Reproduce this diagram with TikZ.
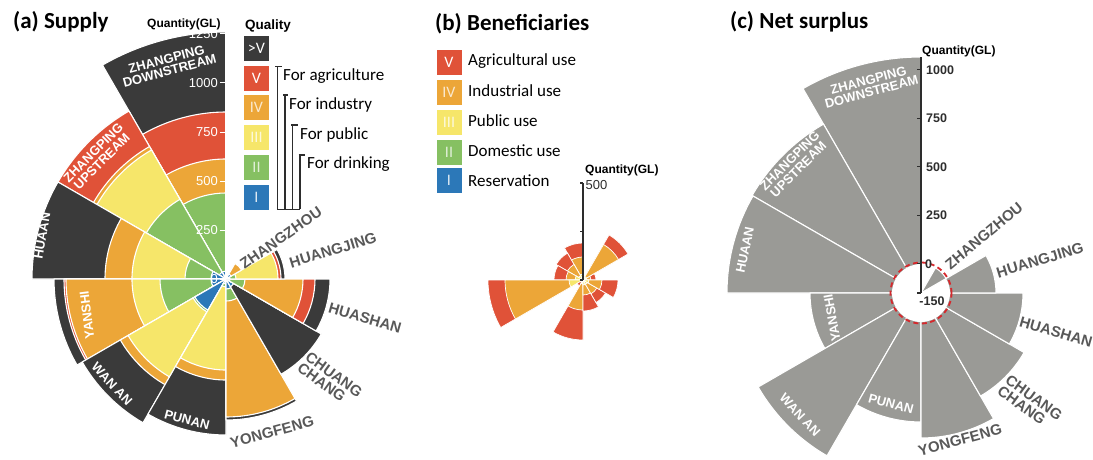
\documentclass[tikz,border=0pt]{standalone}
\usepackage{fontspec}
\setmainfont{Carlito}
\newfontfamily\helv{Liberation Sans}
\definecolor{qdark}{RGB}{58,58,58}
\definecolor{qred}{RGB}{224,82,56}
\definecolor{qorange}{RGB}{236,166,56}
\definecolor{qyellow}{RGB}{246,230,106}
\definecolor{qgreen}{RGB}{134,192,98}
\definecolor{qblue}{RGB}{44,120,184}
\definecolor{nsgrey}{RGB}{154,154,150}
\definecolor{lblgrey}{RGB}{88,88,88}
\definecolor{zerored}{RGB}{214,40,44}
\definecolor{axisdark}{RGB}{45,45,45}

\tikzset{
  sectorline/.style={draw=white,line width=1.1pt,line join=round},
  inname/.style={font=\helv\bfseries\fontsize{13}{12}\selectfont,text=white,align=center,inner sep=0pt},
  outname/.style={font=\helv\bfseries\fontsize{15}{13.5}\selectfont,text=lblgrey,align=left,inner sep=0pt},
  paneltitle/.style={font=\bfseries\fontsize{23}{26}\selectfont,anchor=base west,inner sep=0pt},
  axistitle/.style={font=\helv\bfseries\fontsize{12}{14}\selectfont,anchor=base west,inner sep=0pt},
  axlabel/.style={font=\helv\fontsize{13}{14}\selectfont,inner sep=0pt},
  qbox/.style={minimum width=25,minimum height=25,inner sep=0pt,font=\fontsize{16}{16}\selectfont,text=white},
  legtext/.style={font=\fontsize{17}{19}\selectfont,anchor=base west,inner sep=0pt},
  bracket/.style={draw=axisdark,line width=1.3pt},
}

\begin{document}
\begin{tikzpicture}[x=1pt,y=1pt]
\useasboundingbox (0,0) rectangle (1093,459);
\def\wdg#1#2#3{\filldraw[sectorline,fill=#3] (0,0) -- (#1:#2) arc[start angle=#1,delta angle=30,radius=#2] -- cycle;}

% panel titles
\node[paneltitle] (title-a) at (13,430) {(a) Supply};
\node[paneltitle] (title-b) at (435,428) {(b) Beneficiaries};
\node[paneltitle] (title-c) at (730,430) {(c) Net surplus};

% ---------------- (a) supply
\begin{scope}[shift={(226,180)}]
% zhangping downstream
\wdg{90}{247}{qdark}
\wdg{90}{167}{qred}
\wdg{90}{120}{qorange}
\wdg{90}{86}{qgreen}
\wdg{90}{8}{qblue}
% zhangping upstream
\wdg{120}{194}{qred}
\wdg{120}{153}{qorange}
\wdg{120}{149}{qyellow}
\wdg{120}{92}{qgreen}
\wdg{120}{8}{qblue}
% huaan
\wdg{150}{194}{qdark}
\wdg{150}{121}{qorange}
\wdg{150}{94}{qyellow}
\wdg{150}{41}{qgreen}
\wdg{150}{15}{qblue}
% yanshi
\wdg{180}{172}{qdark}
\wdg{180}{162}{qred}
\wdg{180}{160}{qorange}
\wdg{180}{94}{qyellow}
\wdg{180}{66}{qgreen}
\wdg{180}{15}{qblue}
% wan an
\wdg{210}{166}{qdark}
\wdg{210}{122}{qorange}
\wdg{210}{113}{qyellow}
\wdg{210}{38}{qgreen}
\wdg{210}{36}{qblue}
% punan
\wdg{240}{156}{qdark}
\wdg{240}{101}{qorange}
\wdg{240}{91}{qyellow}
\wdg{240}{8}{qgreen}
\wdg{240}{5}{qblue}
% yongfeng
\wdg{270}{141}{qdark}
\wdg{270}{138}{qorange}
\wdg{270}{22}{qgreen}
\wdg{270}{10}{qblue}
% chuang chang
\wdg{300}{110}{qdark}
\wdg{300}{9}{qblue}
% huashan
\wdg{330}{104}{qdark}
\wdg{330}{89}{qred}
\wdg{330}{77}{qorange}
\wdg{330}{19}{qgreen}
\wdg{330}{4}{qblue}
% huangjing
\wdg{0}{59}{qdark}
\wdg{0}{55}{qred}
\wdg{0}{52}{qyellow}
\wdg{0}{10}{qgreen}
\wdg{0}{4}{qblue}
% zhangzhou
\wdg{30}{18}{qorange}
\wdg{30}{6}{qblue}
% axis
\draw[white,line width=1.2pt] (0,0) -- (0,250);
\draw[white,line width=1pt] (-6,0) -- (0,0) (-6,49) -- (0,49) (-6,98) -- (0,98)
  (-6,147) -- (0,147) (-6,196) -- (0,196) (-6,245) -- (0,245);
\node[axlabel,text=white,anchor=east] (a-t0) at (-8,0) {0};
\node[axlabel,text=white,anchor=east] (a-t250) at (-8,49) {250};
\node[axlabel,text=white,anchor=east] (a-t500) at (-8,98) {500};
\node[axlabel,text=white,anchor=east] (a-t750) at (-8,147) {750};
\node[axlabel,text=white,anchor=east] (a-t1000) at (-8,196) {1000};
\node[axlabel,text=white,anchor=east] (a-t1250) at (-8,245) {1250};
\end{scope}
\node[axistitle] (a-qty) at (147,431.5) {Quantity(GL)};

% names in (a)
\node[inname,rotate=15] (a-zpd) at (168,394) {ZHANGPING\\DOWNSTREAM};
\node[inname,rotate=45] (a-zpu) at (97.5,302) {ZHANGPING\\UPSTREAM};
\node[inname,rotate=80] (a-huaan) at (42,223) {HUAAN};
\node[inname,rotate=97] (a-yanshi) at (87,144) {YANSHI};
\node[inname,rotate=-47] (a-wanan) at (112,75) {WAN AN};
\node[inname,rotate=-15] (a-punan) at (187,39) {PUNAN};
\node[outname,rotate=15] (a-yongfeng) at (272,27) {YONGFENG};
\node[outname,rotate=-36] (a-chuang) at (330,79) {CHUANG\\CHANG};
\node[outname,rotate=-16] (a-huashan) at (365,141) {HUASHAN};
\node[outname,rotate=17] (a-huangjing) at (333,209) {HUANGJING};
\node[outname,rotate=35] (a-zhangzhou) at (281,221) {ZHANGZHOU};

% quality legend
\node[font=\helv\bfseries\fontsize{13.5}{15}\selectfont,anchor=base west,inner sep=0pt] (q-title) at (245,429.7) {Quality};
\node[qbox,fill=qdark] (q-over) at (256.5,410.5) {>V};
\node[qbox,fill=qred] (q-v) at (256.5,380.5) {V};
\node[qbox,fill=qorange,text opacity=0.75] (q-iv) at (256.5,351.5) {IV};
\node[qbox,fill=qyellow,text opacity=0.75] (q-iii) at (256.5,321.5) {III};
\node[qbox,fill=qgreen,text opacity=0.75] (q-ii) at (256.5,291.5) {II};
\node[qbox,fill=qblue,text opacity=0.85] (q-i) at (256.5,261.5) {I};
\draw[bracket] (275,392.3) -- (282,392.3) (277.3,392.3) -- (277.3,249.7) -- (300,249.7);
\draw[bracket] (283,364) -- (288,364) (285,364) -- (285,249.7);
\draw[bracket] (291,334) -- (298,334) (292.7,334) -- (292.7,249.7);
\draw[bracket] (298.5,304) -- (305,304) (300,304) -- (300,249.7);
\node[legtext] (use-agri) at (283,378) {For agriculture};
\node[legtext] (use-ind) at (289,349.7) {For industry};
\node[legtext] (use-pub) at (300,319.7) {For public};
\node[legtext] (use-drink) at (307,290.7) {For drinking};

% ---------------- (b) beneficiaries
\node[qbox,fill=qred] (b-v) at (449,396.5) {V};
\node[qbox,fill=qorange,text opacity=0.75] (b-iv) at (449,366.5) {IV};
\node[qbox,fill=qyellow,text opacity=0.75] (b-iii) at (449,336.5) {III};
\node[qbox,fill=qgreen,text opacity=0.75] (b-ii) at (449,306.5) {II};
\node[qbox,fill=qblue,text opacity=0.85] (b-i) at (449,278.5) {I};
\node[legtext] (b-agri) at (468,393) {Agricultural use};
\node[legtext] (b-ind) at (468,362.3) {Industrial use};
\node[legtext] (b-pub) at (468,332.3) {Public use};
\node[legtext] (b-dom) at (468,302.3) {Domestic use};
\node[legtext] (b-res) at (468,273) {Reservation};

\begin{scope}[shift={(583,179)},sectorline/.append style={line width=0.7pt}]
% huangjing
\wdg{0}{13}{qred}
\wdg{0}{8}{qorange}
\wdg{0}{4}{qyellow}
% zhangzhou
\wdg{30}{52}{qred}
\wdg{30}{41}{qorange}
\wdg{30}{4}{qyellow}
% zhangping downstream
\wdg{90}{37}{qred}
\wdg{90}{23}{qorange}
\wdg{90}{6}{qyellow}
% zhangping upstream
\wdg{120}{31}{qred}
\wdg{120}{18}{qorange}
\wdg{120}{5}{qyellow}
% huaan
\wdg{150}{29}{qred}
\wdg{150}{17}{qorange}
\wdg{150}{8}{qyellow}
% yanshi
\wdg{180}{95}{qred}
\wdg{180}{78}{qorange}
\wdg{180}{14}{qyellow}
% wan an
\wdg{210}{7}{qred}
\wdg{210}{3}{qyellow}
% punan
\wdg{240}{60}{qred}
\wdg{240}{30}{qorange}
\wdg{240}{4}{qyellow}
% yongfeng
\wdg{270}{31}{qred}
\wdg{270}{15}{qorange}
\wdg{270}{5}{qyellow}
% chuang chang
\wdg{300}{26}{qred}
\wdg{300}{16}{qorange}
\wdg{300}{5}{qyellow}
% huashan
\wdg{330}{35}{qred}
\wdg{330}{19}{qorange}
\wdg{330}{6}{qyellow}
% axis
\draw[axisdark,line width=1.3pt] (0,0) -- (0,97);
\draw[axisdark,line width=1.1pt] (-3,0) -- (0,0) (-3,48.5) -- (0,48.5) (-3,97) -- (0,97);
\node[axlabel,text=axisdark,anchor=west] (b-t500) at (2.5,95) {500};
\end{scope}
\node[axistitle] (b-qty) at (585,286) {Quantity(GL)};

% ---------------- (c) net surplus
\begin{scope}[shift={(921,166)}]
\wdg{90}{236}{nsgrey}
\wdg{120}{195}{nsgrey}
\wdg{150}{194}{nsgrey}
\wdg{180}{111}{nsgrey}
\wdg{210}{188}{nsgrey}
\wdg{240}{129}{nsgrey}
\wdg{270}{145}{nsgrey}
\wdg{300}{119}{nsgrey}
\wdg{330}{102}{nsgrey}
\wdg{0}{75}{nsgrey}
\fill[white] (0,0) circle[radius=29];
% zhangzhou is below zero
\wdg{30}{29}{nsgrey}
\draw[zerored,line width=1.8pt,dash pattern=on 5pt off 3.5pt] (0,0) circle[radius=30.5];
% axis
\draw[axisdark,line width=1.6pt] (0,0) -- (0,236);
\draw[axisdark,line width=1.1pt] (-4,0) -- (0,0) (-4,29.1) -- (0,29.1) (-4,77.6) -- (0,77.6)
  (-4,126.1) -- (0,126.1) (-4,174.6) -- (0,174.6) (-4,223.1) -- (0,223.1);
\node[axlabel,font=\helv\bfseries\fontsize{12.5}{14}\selectfont,text=axisdark,anchor=center] (c-tm150) at (11,-8) {-150};
\node[axlabel,font=\helv\bfseries\fontsize{12.5}{14}\selectfont,text=axisdark,anchor=west] (c-t0) at (4,29.1) {0};
\node[axlabel,font=\helv\bfseries\fontsize{12.5}{14}\selectfont,text=axisdark,anchor=west] (c-t250) at (5,77.6) {250};
\node[axlabel,font=\helv\bfseries\fontsize{12.5}{14}\selectfont,text=axisdark,anchor=west] (c-t500) at (5,126.1) {500};
\node[axlabel,font=\helv\bfseries\fontsize{12.5}{14}\selectfont,text=axisdark,anchor=west] (c-t750) at (5,174.6) {750};
\node[axlabel,font=\helv\bfseries\fontsize{12.5}{14}\selectfont,text=axisdark,anchor=west] (c-t1000) at (5,223.1) {1000};
\end{scope}
\node[axistitle] (c-qty) at (922,404.3) {Quantity(GL)};

% names in (c)
\node[inname,rotate=15] (c-zpd) at (870,373) {ZHANGPING\\DOWNSTREAM};
\node[inname,rotate=45] (c-zpu) at (794,294) {ZHANGPING\\UPSTREAM};
\node[inname,rotate=78] (c-huaan) at (745,209) {HUAAN};
\node[inname,rotate=100] (c-yanshi) at (832,141) {YANSHI};
\node[inname,rotate=-47] (c-wanan) at (800,44) {WAN AN};
\node[inname,rotate=-15] (c-punan) at (891,55) {PUNAN};
\node[outname,rotate=15] (c-yongfeng) at (960,19) {YONGFENG};
\node[outname,rotate=-36] (c-chuang) at (1030,56) {CHUANG\\CHANG};
\node[outname,rotate=-16] (c-huashan) at (1056,127) {HUASHAN};
\node[outname,rotate=17] (c-huangjing) at (1040,199) {HUANGJING};
\node[outname,rotate=40] (c-zhangzhou) at (984,223) {ZHANGZHOU};
\end{tikzpicture}
\end{document}
